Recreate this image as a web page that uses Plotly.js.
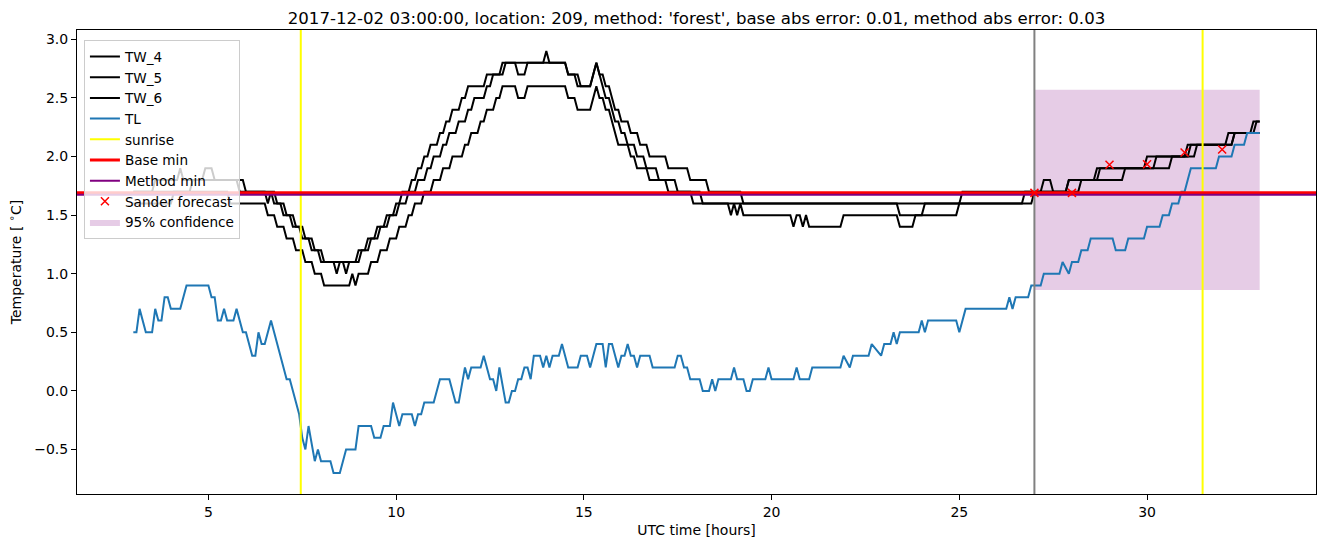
<!DOCTYPE html>
<html>
<head>
<meta charset="utf-8">
<script src="https://cdn.plot.ly/plotly-3.0.1.min.js"></script>
<style>
html,body{margin:0;padding:0;background:#fff;}
#chart{width:1326px;height:547px;}
</style>
</head>
<body>
<div id="chart"></div>
<script>
// ---------- data (UTC hours, °C) ----------
const tw4_time = [3.0,3.5,3.583,4.167,4.25,4.333,4.833,4.917,5.083,5.167,5.75,5.833,6.5,6.583,6.667,6.75,6.917,7.0,7.167,7.25,7.417,7.5,7.667,7.75,7.917,8.0,8.333,8.417,8.5,8.583,8.667,8.75,8.917,9.0,9.167,9.25,9.417,9.5,9.667,9.75,9.917,10.0,10.083,10.167,10.333,10.417,10.5,10.583,10.667,10.75,10.833,10.917,11.083,11.167,11.25,11.333,11.417,11.5,11.667,11.75,11.833,11.917,12.333,12.417,12.75,12.833,13.167,13.25,13.417,13.5,13.917,14.0,14.083,14.5,14.583,14.75,14.833,15.167,15.25,15.333,15.417,15.5,15.583,15.667,15.75,15.833,15.917,16.0,16.167,16.25,16.417,16.5,16.667,16.75,17.167,17.25,17.75,17.833,18.25,18.333,19.167,19.25,26.917,27.0,27.833,27.917,28.583,28.667,29.917,30.0,31.0,31.083,32.25,32.333,32.75,32.833,33.0];
const tw4_temp = [1.7,1.7,1.8,1.8,1.9,1.8,1.8,1.9,1.9,1.8,1.8,1.7,1.7,1.6,1.7,1.6,1.6,1.5,1.5,1.4,1.4,1.3,1.3,1.2,1.2,1.1,1.1,1.0,1.1,1.1,1.0,1.1,1.1,1.2,1.2,1.3,1.3,1.4,1.4,1.5,1.5,1.6,1.6,1.7,1.7,1.8,1.8,1.9,1.9,2.0,2.0,2.1,2.1,2.2,2.2,2.3,2.3,2.4,2.4,2.5,2.5,2.6,2.6,2.7,2.7,2.8,2.8,2.7,2.7,2.8,2.8,2.9,2.8,2.8,2.7,2.7,2.6,2.6,2.7,2.8,2.7,2.7,2.6,2.6,2.5,2.4,2.4,2.3,2.3,2.2,2.2,2.1,2.1,2.0,2.0,1.9,1.9,1.8,1.8,1.7,1.7,1.6,1.6,1.7,1.7,1.8,1.8,1.9,1.9,2.0,2.0,2.1,2.1,2.2,2.2,2.3,2.3];

const tw5_time = [3.0,4.5,4.583,5.917,6.0,6.75,6.833,7.0,7.083,7.25,7.333,7.5,7.583,7.75,7.833,8.0,8.083,9.0,9.083,9.25,9.333,9.5,9.583,9.75,9.833,10.0,10.083,10.25,10.333,10.5,10.583,10.75,10.833,10.917,11.0,11.167,11.25,11.333,11.417,11.583,11.667,11.833,11.917,12.0,12.083,12.333,12.417,12.5,12.583,12.833,12.917,14.5,14.583,14.833,14.917,15.167,15.25,15.333,15.417,15.5,15.583,15.667,15.75,15.833,15.917,16.0,16.083,16.167,16.333,16.417,16.583,16.667,16.917,17.0,17.417,17.5,17.833,17.917,23.333,23.417,24.0,24.083,25.0,25.083,27.167,27.25,27.417,27.5,27.833,27.917,28.667,28.75,30.167,30.25,31.25,31.333,32.25,32.333,32.833,32.917,33.0];
const tw5_temp = [1.7,1.7,1.8,1.8,1.7,1.7,1.6,1.6,1.5,1.5,1.4,1.4,1.3,1.3,1.2,1.2,1.1,1.1,1.2,1.2,1.3,1.3,1.4,1.4,1.5,1.5,1.6,1.6,1.7,1.7,1.8,1.8,1.9,1.9,2.0,2.0,2.1,2.1,2.2,2.2,2.3,2.3,2.4,2.4,2.5,2.5,2.6,2.6,2.7,2.7,2.8,2.8,2.7,2.7,2.6,2.6,2.7,2.8,2.7,2.6,2.5,2.5,2.4,2.3,2.3,2.2,2.2,2.1,2.1,2.0,2.0,1.9,1.9,1.8,1.8,1.7,1.7,1.6,1.6,1.5,1.5,1.6,1.6,1.7,1.7,1.8,1.8,1.7,1.7,1.8,1.8,1.9,1.9,2.0,2.0,2.1,2.1,2.2,2.2,2.3,2.3];

const tw6_time = [3.0,4.0,4.083,5.5,5.583,6.5,6.583,6.75,6.833,7.0,7.083,7.25,7.333,7.5,7.583,7.75,7.833,8.0,8.083,8.75,8.833,8.917,9.0,9.25,9.333,9.5,9.583,9.75,9.833,10.0,10.083,10.25,10.333,10.417,10.5,10.667,10.75,10.917,11.0,11.167,11.25,11.417,11.5,11.75,11.833,11.917,12.0,12.167,12.25,12.333,12.417,12.583,12.667,12.75,12.833,13.167,13.25,13.417,13.5,14.5,14.583,14.75,14.833,15.167,15.25,15.333,15.417,15.5,15.583,15.667,15.75,15.833,15.917,16.167,16.25,16.333,16.417,16.667,16.75,17.167,17.25,18.083,18.167,18.833,18.917,19.0,19.083,19.167,19.25,20.5,20.583,20.667,20.75,20.833,20.917,21.0,21.833,21.917,23.333,23.417,23.75,23.833,24.917,25.0,26.667,26.75,28.167,28.25,29.333,29.417,30.583,30.667,31.083,31.167,32.083,32.167,33.0];
const tw6_temp = [1.6,1.6,1.7,1.7,1.6,1.6,1.5,1.5,1.4,1.4,1.3,1.3,1.2,1.2,1.1,1.1,1.0,1.0,0.9,0.9,1.0,0.9,1.0,1.0,1.1,1.1,1.2,1.2,1.3,1.3,1.4,1.4,1.5,1.5,1.6,1.6,1.7,1.7,1.8,1.8,1.9,1.9,2.0,2.0,2.1,2.1,2.2,2.2,2.3,2.3,2.4,2.4,2.5,2.5,2.6,2.6,2.5,2.5,2.6,2.6,2.5,2.5,2.4,2.4,2.5,2.6,2.5,2.5,2.4,2.4,2.3,2.2,2.1,2.1,2.0,2.0,1.9,1.9,1.8,1.8,1.7,1.7,1.6,1.6,1.5,1.6,1.5,1.6,1.5,1.5,1.4,1.5,1.5,1.4,1.5,1.4,1.4,1.5,1.5,1.4,1.4,1.5,1.5,1.6,1.6,1.7,1.7,1.8,1.8,1.9,1.9,2.0,2.0,2.1,2.1,2.2,2.2];

const tl_time = [3.0,3.083,3.167,3.333,3.5,3.583,3.667,3.75,3.833,3.917,4.0,4.25,4.417,5.0,5.083,5.167,5.25,5.333,5.417,5.5,5.667,5.75,5.917,6.0,6.167,6.25,6.333,6.417,6.5,6.667,7.083,7.167,7.417,7.5,7.583,7.667,7.833,7.917,8.0,8.25,8.333,8.5,8.667,8.917,9.0,9.333,9.417,9.583,9.667,9.833,9.917,10.083,10.167,10.417,10.5,10.583,10.667,10.75,11.0,11.167,11.417,11.583,11.667,11.833,11.917,12.0,12.25,12.333,12.5,12.583,12.667,12.75,12.917,13.0,13.083,13.167,13.25,13.333,13.417,13.5,13.583,13.667,13.833,13.917,14.0,14.083,14.167,14.333,14.417,14.583,14.833,14.917,15.083,15.167,15.333,15.5,15.583,15.667,15.75,15.917,16.0,16.083,16.167,16.25,16.333,16.417,16.5,16.75,16.833,17.417,17.5,17.583,17.667,17.75,17.833,18.083,18.167,18.333,18.417,18.5,18.583,18.917,19.0,19.083,19.25,19.333,19.417,19.5,19.833,19.917,20.0,20.583,20.667,20.75,21.0,21.083,21.833,21.917,22.083,22.167,22.583,22.667,22.917,23.0,23.167,23.25,23.333,23.417,23.917,24.0,24.083,24.167,24.917,25.0,25.167,26.25,26.333,26.417,26.5,26.833,26.917,27.167,27.25,27.667,27.75,27.917,28.0,28.167,28.25,28.417,28.5,29.083,29.167,29.417,29.5,29.917,30.0,30.333,30.417,30.583,30.667,30.833,30.917,31.0,31.083,31.167,31.833,31.917,32.25,32.333,32.583,32.667,33.0];
const tl_temp = [0.5,0.5,0.7,0.5,0.5,0.7,0.6,0.6,0.8,0.8,0.7,0.7,0.9,0.9,0.8,0.8,0.6,0.6,0.7,0.6,0.6,0.7,0.5,0.5,0.3,0.3,0.5,0.4,0.4,0.6,0.1,0.1,-0.2,-0.4,-0.5,-0.3,-0.6,-0.5,-0.6,-0.6,-0.7,-0.7,-0.5,-0.5,-0.3,-0.3,-0.4,-0.4,-0.3,-0.3,-0.1,-0.3,-0.2,-0.2,-0.3,-0.2,-0.2,-0.1,-0.1,0.1,0.1,-0.1,-0.1,0.2,0.1,0.2,0.2,0.3,0.1,0.1,0.0,0.2,-0.1,-0.1,0.0,0.0,0.1,0.1,0.2,0.2,0.1,0.3,0.3,0.2,0.3,0.2,0.3,0.3,0.4,0.2,0.2,0.3,0.3,0.2,0.4,0.4,0.2,0.4,0.4,0.2,0.3,0.3,0.4,0.3,0.3,0.2,0.3,0.3,0.2,0.2,0.3,0.3,0.2,0.2,0.1,0.1,0.0,0.0,0.1,0.0,0.1,0.1,0.2,0.1,0.1,0.0,0.0,0.1,0.1,0.2,0.1,0.1,0.2,0.1,0.1,0.2,0.2,0.3,0.2,0.3,0.3,0.4,0.3,0.4,0.4,0.5,0.4,0.5,0.5,0.6,0.5,0.6,0.6,0.5,0.7,0.7,0.8,0.7,0.8,0.8,0.9,0.9,1.0,1.0,1.1,1.0,1.1,1.1,1.2,1.2,1.3,1.3,1.2,1.2,1.3,1.3,1.4,1.4,1.5,1.5,1.6,1.6,1.7,1.7,1.8,1.9,1.9,2.0,2.0,2.1,2.1,2.2,2.2];

const sunrise_hours = [7.46, 31.48];
const forecast_hour = 27.0;
const base_min = 1.69;
const method_min = 1.675;
const sander_time = [27, 28, 29, 30, 31, 32];
const sander_temp = [1.69, 1.69, 1.93, 1.935, 2.035, 2.06];
const conf_time = [27.0, 33.0];
const conf_temp = [0.86, 2.57];

const xRange = [1.5, 34.5];
const yRange = [-0.88, 3.08];

// ---------- traces ----------
const F = 'DejaVu Sans, sans-serif';
const FS = 14;
const traces = [];

traces.push({ // confidence band (drawn behind)
  x: [conf_time[0], conf_time[1], conf_time[1], conf_time[0], conf_time[0]],
  y: [conf_temp[0], conf_temp[0], conf_temp[1], conf_temp[1], conf_temp[0]],
  mode: 'lines', fill: 'toself', fillcolor: 'rgba(128,0,128,0.2)',
  line: {width: 0, color: 'rgba(128,0,128,0.2)'}, name: '95% confidence', legendrank: 9,
  hoverinfo: 'skip'
});
[['TW_4', tw4_time, tw4_temp], ['TW_5', tw5_time, tw5_temp], ['TW_6', tw6_time, tw6_temp]].forEach((s, i) => {
  traces.push({x: s[1], y: s[2], mode: 'lines', name: s[0], line: {color: 'black', width: 2},
    legendrank: i + 1});
});
traces.push({x: tl_time, y: tl_temp, mode: 'lines', name: 'TL', line: {color: '#1f77b4', width: 2},
  legendrank: 4});

const sx = [], sy = [];
sunrise_hours.forEach(h => { sx.push(h, h, null); sy.push(yRange[0], yRange[1], null); });
traces.push({x: sx, y: sy, mode: 'lines', name: 'sunrise', line: {color: 'yellow', width: 2},
  legendrank: 5});
traces.push({x: [forecast_hour, forecast_hour], y: yRange, mode: 'lines', showlegend: false,
  line: {color: 'grey', width: 2}});
traces.push({x: xRange, y: [base_min, base_min], mode: 'lines', name: 'Base min',
  line: {color: 'red', width: 3}, legendrank: 6});
traces.push({x: xRange, y: [method_min, method_min], mode: 'lines', name: 'Method min',
  line: {color: 'purple', width: 2}, legendrank: 7});
traces.push({x: sander_time, y: sander_temp, mode: 'markers', name: 'Sander forecast',
  marker: {symbol: 'x-thin', size: 8, color: 'red', line: {color: 'red', width: 1.5}},
  legendrank: 8});

const layout = {
  width: 1326, height: 547,
  margin: {l: 77, r: 10, t: 30, b: 53, pad: 0},
  paper_bgcolor: 'white', plot_bgcolor: 'white',
  font: {family: F, size: FS, color: 'black'},
  showlegend: true,
  title: {text: "2017-12-02 03:00:00, location: 209, method: 'forest', base abs error: 0.01, method abs error: 0.03",
    font: {family: F, size: 16.6, color: 'black'}, x: 0.5, xref: 'paper', xanchor: 'center',
    y: 1 - 18/547, yref: 'container', yanchor: 'middle'},
  xaxis: {range: xRange, tickvals: [5, 10, 15, 20, 25, 30], ticks: 'outside', ticklen: 5, tickwidth: 1,
    tickcolor: 'black', showline: true, linecolor: 'black', linewidth: 1, mirror: true,
    showgrid: false, zeroline: false, tickfont: {family: F, size: FS},
    title: {text: 'UTC time [hours]', font: {family: F, size: FS}, standoff: 6}},
  yaxis: {range: yRange, tickvals: [-0.5, 0, 0.5, 1, 1.5, 2, 2.5, 3], tickformat: '.1f', ticks: 'outside',
    ticklen: 5, tickwidth: 1, tickcolor: 'black', showline: true, linecolor: 'black', linewidth: 1,
    mirror: true, showgrid: false, zeroline: false, tickfont: {family: F, size: FS},
    title: {text: 'Temperature [ <sup>∘</sup>C]', font: {family: F, size: FS}, standoff: 9}},
  legend: {x: 0.0056, y: 0.978, xanchor: 'left', yanchor: 'top', bgcolor: 'rgba(255,255,255,0.8)',
    bordercolor: '#cccccc', borderwidth: 1, font: {family: F, size: 13.6}, itemwidth: 30,
    traceorder: 'normal'}
};

Plotly.newPlot('chart', traces, layout, {displayModeBar: false, staticPlot: true});
</script>
</body>
</html>
